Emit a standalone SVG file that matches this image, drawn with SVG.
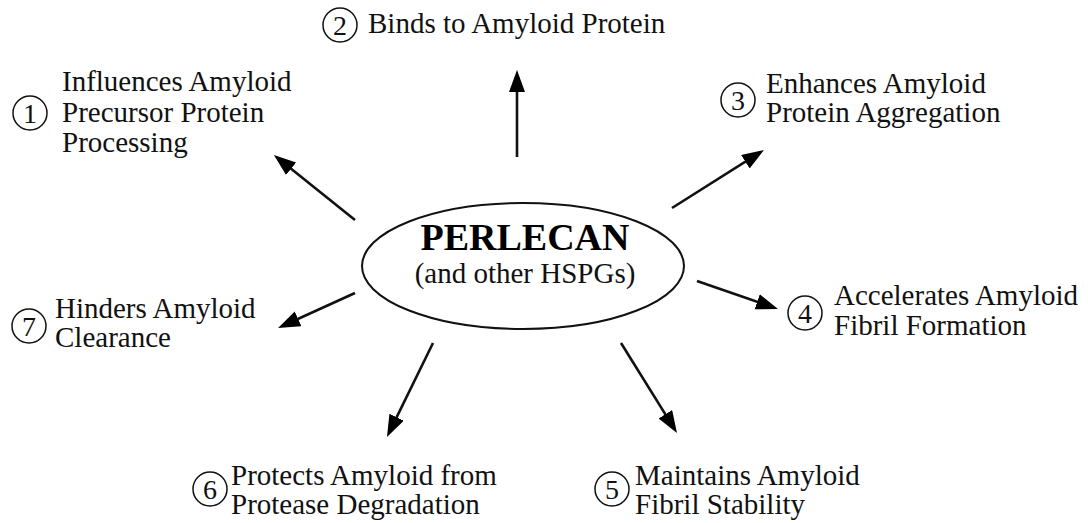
<svg xmlns="http://www.w3.org/2000/svg" width="1088" height="523" viewBox="0 0 1088 523">
<style>
.lbl{font-family:"Liberation Serif","Times New Roman",serif;font-size:29px;fill:#111}
.num{font-family:"Liberation Serif","Times New Roman",serif;font-size:28px;fill:#111;text-anchor:middle}
.ring{fill:none;stroke:#111;stroke-width:1.5}
.arrow{stroke:#111;stroke-width:2.6;fill:none;marker-end:url(#ah)}
.main{font-family:"Liberation Serif","Times New Roman",serif;font-weight:bold;font-size:38px;fill:#000;text-anchor:middle}
.sub{font-family:"Liberation Serif","Times New Roman",serif;font-size:29px;fill:#111;text-anchor:middle}
</style>
<defs>
<marker id="ah" markerUnits="userSpaceOnUse" markerWidth="24" markerHeight="18" refX="16" refY="8" orient="auto">
<path d="M0,0 L22,8 L0,16 Z" fill="#000"/>
</marker>
</defs>
<rect width="1088" height="523" fill="#fff"/>
<g id="perlecan">
<ellipse cx="523" cy="266" rx="161" ry="63" fill="none" stroke="#111" stroke-width="2"/>
<text class="main" x="525" y="250">PERLECAN</text>
<text class="sub" x="525" y="283">(and other HSPGs)</text>
</g>
<g id="connectors">
<line class="arrow" x1="355" y1="220" x2="278.6" y2="158.8"/>
<line class="arrow" x1="517" y1="157" x2="517" y2="76"/>
<line class="arrow" x1="672" y1="208" x2="758.9" y2="153.2"/>
<line class="arrow" x1="697" y1="281" x2="772.3" y2="307"/>
<line class="arrow" x1="621" y1="343" x2="673.8" y2="427.9"/>
<line class="arrow" x1="433" y1="343" x2="389.6" y2="431.6"/>
<line class="arrow" x1="355" y1="293" x2="283.5" y2="325.5"/>
</g>
<g id="n1">
<circle class="ring" cx="30" cy="113" r="17"/>
<text class="num" x="30" y="123">1</text>
<text class="lbl" x="62" y="91">Influences Amyloid</text>
<text class="lbl" x="62" y="122">Precursor Protein</text>
<text class="lbl" x="62" y="152">Processing</text>
</g>
<g id="n2">
<circle class="ring" cx="340" cy="25" r="17"/>
<text class="num" x="340" y="35">2</text>
<text class="lbl" x="368" y="33">Binds to Amyloid Protein</text>
</g>
<g id="n3">
<circle class="ring" cx="738" cy="100" r="17"/>
<text class="num" x="738" y="110">3</text>
<text class="lbl" x="766" y="93">Enhances Amyloid</text>
<text class="lbl" x="766" y="122">Protein Aggregation</text>
</g>
<g id="n4">
<circle class="ring" cx="805" cy="313" r="17"/>
<text class="num" x="805" y="323">4</text>
<text class="lbl" x="834" y="305">Accelerates Amyloid</text>
<text class="lbl" x="834" y="335">Fibril Formation</text>
</g>
<g id="n5">
<circle class="ring" cx="612" cy="489" r="17"/>
<text class="num" x="612" y="499">5</text>
<text class="lbl" x="635" y="485">Maintains Amyloid</text>
<text class="lbl" x="635" y="514">Fibril Stability</text>
</g>
<g id="n6">
<circle class="ring" cx="210" cy="489" r="17"/>
<text class="num" x="210" y="499">6</text>
<text class="lbl" x="231" y="485">Protects Amyloid from</text>
<text class="lbl" x="231" y="514">Protease Degradation</text>
</g>
<g id="n7">
<circle class="ring" cx="29" cy="326" r="17"/>
<text class="num" x="29" y="336">7</text>
<text class="lbl" x="55" y="318">Hinders Amyloid</text>
<text class="lbl" x="55" y="347">Clearance</text>
</g>
</svg>
